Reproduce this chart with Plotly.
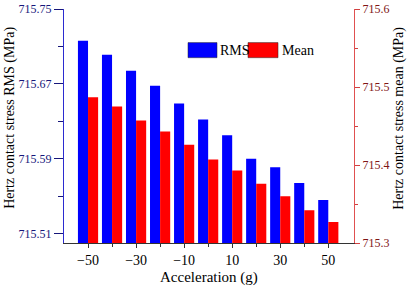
import plotly.graph_objects as go

accel = [-50, -40, -30, -20, -10, 0, 10, 20, 30, 40, 50]
rms = [715.716, 715.701, 715.684, 715.668, 715.649, 715.632, 715.615, 715.590, 715.581, 715.564, 715.546]
mean = [715.487, 715.475, 715.457, 715.443, 715.426, 715.407, 715.393, 715.376, 715.360, 715.342, 715.327]
left_ticks = [715.51, 715.59, 715.67, 715.75]
right_ticks = [715.3, 715.4, 715.5, 715.6]
x_ticks = [-50, -30, -10, 10, 30, 50]

FONT = "Liberation Serif"
NAVY = "#16167a"
DRED = "#7f1515"

fig = go.Figure()
fig.add_trace(go.Bar(x=accel, y=rms, name="RMS", marker=dict(color="#0000ff", line=dict(width=0)),
                     width=4.2, offset=-4.2, yaxis="y", showlegend=False))
fig.add_trace(go.Bar(x=accel, y=mean, name="Mean", marker=dict(color="#ff0000", line=dict(width=0)),
                     width=4.2, offset=0, yaxis="y2", showlegend=False))

fig.update_layout(
    width=409, height=288,
    margin=dict(l=64, r=55, t=9, b=45, autoexpand=False),
    plot_bgcolor="white", paper_bgcolor="white",
    font=dict(family=FONT, size=12, color="black"),
    xaxis=dict(range=[-60, 60.7], tickvals=x_ticks, ticktext=["\u221250", "\u221230", "\u221210", "10", "30", "50"],
               ticks="outside", ticklen=4, tickcolor="#333", showline=True, linecolor="#333", linewidth=1,
               showgrid=False, zeroline=False, tickfont=dict(size=14, color="black"), automargin=False,
               minor=dict(tickvals=accel, ticks="outside", ticklen=3, tickcolor="#333")),
    xaxis2=dict(range=[-60, 60.7], overlaying="x", side="top", showline=True, linecolor="#333", linewidth=1,
                tickvals=accel, ticks="inside", ticklen=4, tickcolor="#333", showticklabels=False,
                showgrid=False, zeroline=False, automargin=False),
    yaxis=dict(range=[715.5, 715.75], tickvals=left_ticks, tickformat=".2f", ticks="outside", ticklen=9,
               tickcolor=NAVY, showline=True, linecolor="#2b2bd0", linewidth=1, showgrid=False, zeroline=False,
               tickfont=dict(size=12, color=NAVY), automargin=False,
               minor=dict(tickvals=[715.55, 715.63, 715.71], ticks="outside", ticklen=5, tickcolor=NAVY)),
    yaxis2=dict(range=[715.3, 715.6], tickvals=right_ticks, tickformat=".1f", overlaying="y", side="right",
                ticks="outside", ticklen=5, tickcolor="#d04040", showline=True, linecolor="#e05050", linewidth=1,
                showgrid=False, zeroline=False, tickfont=dict(size=12, color=DRED), automargin=False,
                minor=dict(tickvals=[715.35, 715.45, 715.55], ticks="outside", ticklen=3, tickcolor="#d04040")),
    barmode="overlay",
)

# axis titles
fig.add_annotation(text="Acceleration (g)", xref="paper", yref="paper", x=0.5, y=-0.1456,
                   xanchor="center", yanchor="middle", showarrow=False, font=dict(size=15, color="black"))
fig.add_annotation(text="Hertz contact stress RMS (MPa)", xref="paper", yref="paper", x=-0.186, y=0.535,
                   xanchor="center", yanchor="middle", textangle=-90, showarrow=False,
                   font=dict(size=14, color="black"))
fig.add_annotation(text="Hertz contact stress mean (MPa)", xref="paper", yref="paper", x=1.155, y=0.535,
                   xanchor="center", yanchor="middle", textangle=-90, showarrow=False,
                   font=dict(size=14, color="black"))

# legend drawn manually
fig.add_shape(type="rect", xref="paper", yref="paper", x0=0.4276, x1=0.5276, y0=0.792, y1=0.8565,
              fillcolor="#0000ff", line=dict(color="#222", width=0.5))
fig.add_shape(type="rect", xref="paper", yref="paper", x0=0.6345, x1=0.738, y0=0.792, y1=0.8565,
              fillcolor="#ff0000", line=dict(color="#222", width=0.5))
fig.add_annotation(text="RMS", xref="paper", yref="paper", x=0.531, y=0.824, xanchor="left", yanchor="middle",
                   showarrow=False, font=dict(size=14, color="black"))
fig.add_annotation(text="Mean", xref="paper", yref="paper", x=0.745, y=0.824, xanchor="left", yanchor="middle",
                   showarrow=False, font=dict(size=14, color="black"))

fig.write_html("out.html")
